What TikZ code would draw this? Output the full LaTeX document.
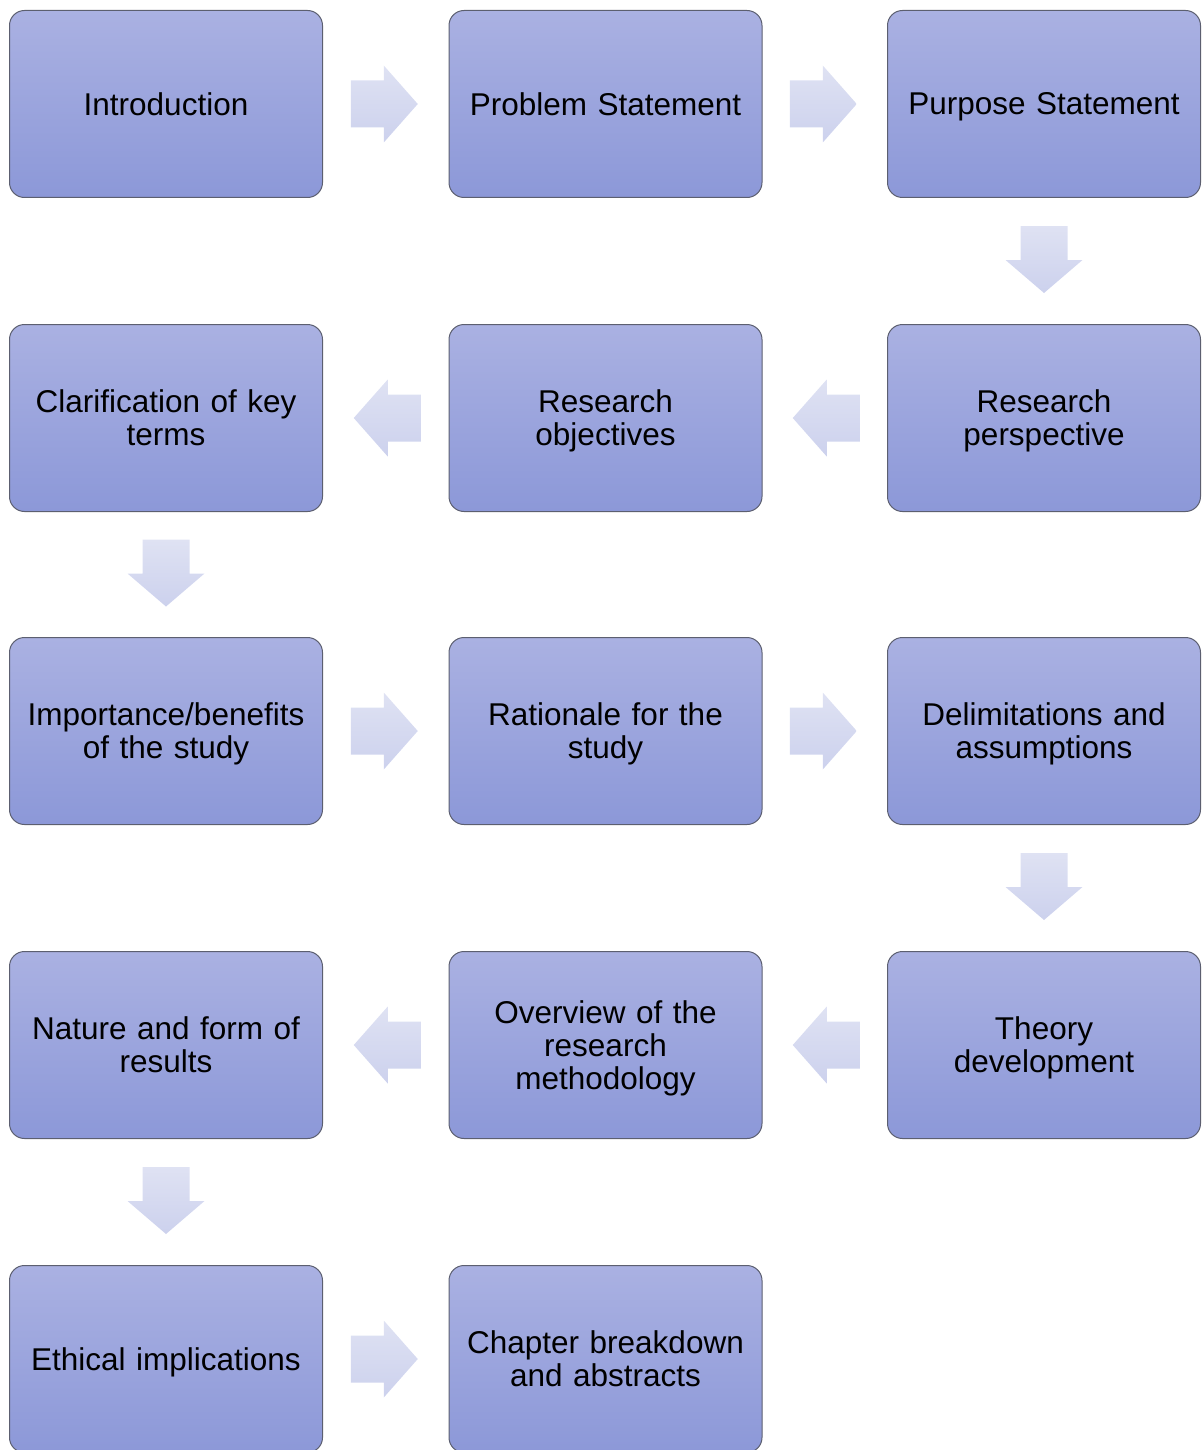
\documentclass[tikz,border=0pt]{standalone}
\usepackage{fontspec}
\setmainfont{Liberation Sans}
\usetikzlibrary{calc}

\definecolor{boxtop}{HTML}{AAB1E2}
\definecolor{boxbot}{HTML}{8C98D8}
\definecolor{boxline}{HTML}{5C5F70}
\definecolor{arrtop}{HTML}{DFE2F3}
\definecolor{arrbot}{HTML}{CCD1ED}

\tikzset{
  stage/.style={draw=boxline, line width=1pt, rounded corners=15pt,
    top color=boxtop, bottom color=boxbot,
    minimum width=313pt, minimum height=187pt, inner sep=0pt,
    text width=300pt, align=center,
    font=\fontsize{31.5}{33}\selectfont,
    % centre the lines on their baselines, ignoring the last descender
    execute at end node={\par\kern-\prevdepth}},
  flowarrow/.style={top color=arrtop, bottom color=arrbot, draw=none}
}

% fat block arrows placed halfway between two nodes
\newcommand{\rightflow}[2]{%
  \path ($(#1.east)!0.5!(#2.west)$) coordinate (m);
  \shade[flowarrow, shift={(m)}] (-35,-23.5) -- (-2,-23.5) -- (-2,-38.5) -- (32,0)
    -- (-2,38.5) -- (-2,23.5) -- (-35,23.5) -- cycle;}
\newcommand{\leftflow}[2]{%
  \path ($(#1.west)!0.5!(#2.east)$) coordinate (m);
  \shade[flowarrow, shift={(m)}] (35,-23.5) -- (2,-23.5) -- (2,-38.5) -- (-32,0)
    -- (2,38.5) -- (2,23.5) -- (35,23.5) -- cycle;}
\newcommand{\downflow}[2]{%
  \path ($(#1.south)!0.5!(#2.north)$) coordinate (m);
  \shade[flowarrow, shift={(m)}] (-23.5,-35) -- (-23.5,-1) -- (-38.5,-1) -- (0,32)
    -- (38.5,-1) -- (23.5,-1) -- (23.5,-35) -- cycle;}

\begin{document}
\begin{tikzpicture}[x=1pt, y=-1pt]
  \useasboundingbox (0,0) rectangle (1203,1450);

  % row 1
  \node[stage] (intro)   at (166,104)   {Introduction};
  \node[stage] (problem) at (605.5,104) {Problem Statement};
  \node[stage] (purpose) at (1044,104)  {Purpose Statement};
  % row 2
  \node[stage] (clarify)     at (166,418)   {Clarification of key\\terms};
  \node[stage] (objectives)  at (605.5,418) {Research\\objectives};
  \node[stage] (perspective) at (1044,418)  {Research\\perspective};
  % row 3
  \node[stage] (importance) at (166,731)   {Importance/benefits\\of the study};
  \node[stage] (rationale)  at (605.5,731) {Rationale for the\\study};
  \node[stage] (delimit)    at (1044,731)  {Delimitations and\\assumptions};
  % row 4
  \node[stage] (nature)   at (166,1045)   {Nature and form of\\results};
  \node[stage] (overview) at (605.5,1045) {Overview of the\\research\\methodology};
  \node[stage] (theory)   at (1044,1045)  {Theory\\development};
  % row 5
  \node[stage] (ethics)  at (166,1359)   {Ethical implications};
  \node[stage] (chapter) at (605.5,1359) {Chapter breakdown\\and abstracts};

  % flow between stages
  \rightflow{intro}{problem}
  \rightflow{problem}{purpose}
  \downflow{purpose}{perspective}
  \leftflow{perspective}{objectives}
  \leftflow{objectives}{clarify}
  \downflow{clarify}{importance}
  \rightflow{importance}{rationale}
  \rightflow{rationale}{delimit}
  \downflow{delimit}{theory}
  \leftflow{theory}{overview}
  \leftflow{overview}{nature}
  \downflow{nature}{ethics}
  \rightflow{ethics}{chapter}
\end{tikzpicture}
\end{document}
